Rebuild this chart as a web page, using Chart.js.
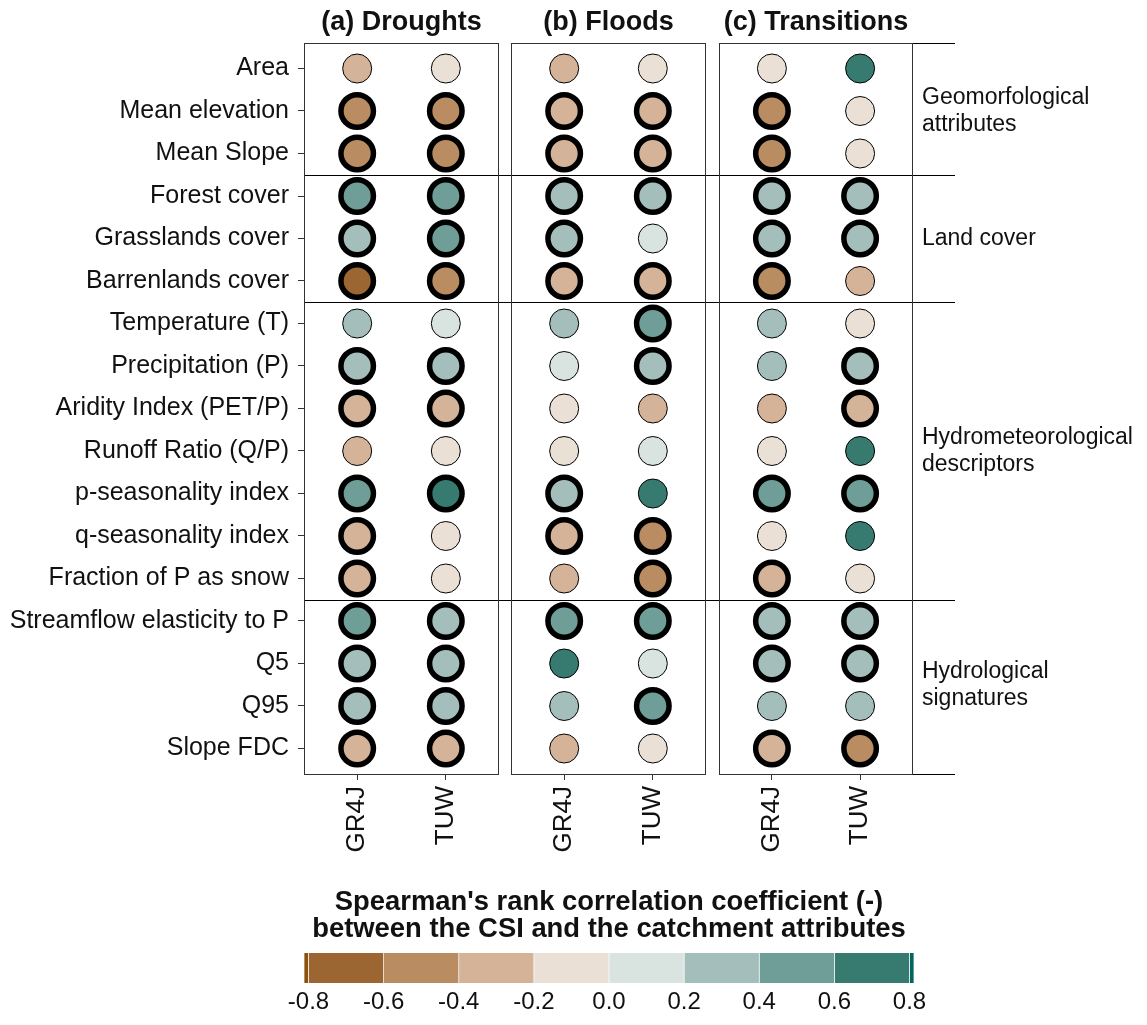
<!DOCTYPE html>
<html>
<head>
<meta charset="utf-8">
<script src="https://cdn.jsdelivr.net/npm/chart.js@4.4.1/dist/chart.umd.min.js"></script>
<style>
  body { margin: 0; background: #fff; width: 1147px; height: 1025px; position: relative; overflow: hidden; }
  canvas { position: absolute; }
</style>
</head>
<body>
<canvas id="panel-a"></canvas>
<canvas id="panel-b"></canvas>
<canvas id="panel-c"></canvas>
<canvas id="colorbar"></canvas>
<script>
// rows of the figure, top to bottom
const attributes = [
  "Area", "Mean elevation", "Mean Slope",
  "Forest cover", "Grasslands cover", "Barrenlands cover",
  "Temperature (T)", "Precipitation (P)", "Aridity Index (PET/P)", "Runoff Ratio (Q/P)",
  "p-seasonality index", "q-seasonality index", "Fraction of P as snow",
  "Streamflow elasticity to P", "Q5", "Q95", "Slope FDC"
];
const models = ["GR4J", "TUW"];
const groupNames = [["Geomorfological", "attributes"], ["Land cover"], ["Hydrometeorological", "descriptors"], ["Hydrological", "signatures"]];
const groupSizes = [3, 3, 7, 4];

// Spearman rho and significance (thick ring)
const droughtsGR4J = [-0.27, -0.49, -0.47, 0.46, 0.34, -0.63, 0.25, 0.31, -0.33, -0.24, 0.44, -0.36, -0.38, 0.42, 0.36, 0.35, -0.35];
const droughtsGR4JSig = [0, 1, 1, 1, 1, 1, 0, 1, 1, 0, 1, 1, 1, 1, 1, 1, 1];
const droughtsTUW = [-0.12, -0.45, -0.44, 0.45, 0.41, -0.47, 0.09, 0.33, -0.31, -0.14, 0.62, -0.15, -0.13, 0.38, 0.37, 0.36, -0.34];
const droughtsTUWSig = [0, 1, 1, 1, 1, 1, 0, 1, 1, 0, 1, 0, 0, 1, 1, 1, 1];

const floodsGR4J = [-0.22, -0.33, -0.32, 0.32, 0.30, -0.35, 0.22, 0.12, -0.11, -0.08, 0.34, -0.37, -0.26, 0.43, 0.61, 0.23, -0.25];
const floodsGR4JSig = [0, 1, 1, 1, 1, 1, 0, 0, 0, 0, 1, 1, 0, 1, 0, 0, 0];
const floodsTUW = [-0.09, -0.34, -0.31, 0.33, 0.14, -0.30, 0.47, 0.37, -0.23, 0.08, 0.64, -0.43, -0.46, 0.44, 0.11, 0.48, -0.07];
const floodsTUWSig = [0, 1, 1, 1, 0, 1, 1, 1, 0, 0, 0, 1, 1, 1, 0, 1, 0];

const transitionsGR4J = [-0.13, -0.48, -0.46, 0.35, 0.33, -0.44, 0.26, 0.27, -0.28, -0.10, 0.42, -0.06, -0.37, 0.36, 0.34, 0.24, -0.36];
const transitionsGR4JSig = [0, 1, 1, 1, 1, 1, 0, 0, 0, 0, 1, 0, 1, 1, 1, 0, 1];
const transitionsTUW = [0.63, -0.11, -0.09, 0.36, 0.35, -0.29, -0.05, 0.38, -0.39, 0.61, 0.41, 0.62, -0.08, 0.37, 0.35, 0.28, -0.52];
const transitionsTUWSig = [0, 0, 0, 1, 1, 0, 0, 1, 1, 0, 1, 0, 0, 1, 1, 0, 1];

// colour classes
const breaks = [-0.8, -0.6, -0.4, -0.2, 0, 0.2, 0.4, 0.6, 0.8];
const palette = ["#9b6631", "#b98c62", "#d4b398", "#ebe0d6", "#d9e3e0", "#a4bfbb", "#6e9e97", "#377b70"];
const barLimits = [-0.812, 0.812];
const endColors = ["#8c510a", "#01665e"];
const cbarTicks = [-0.8, -0.6, -0.4, -0.2, 0, 0.2, 0.4, 0.6, 0.8];

const FONT = "'Liberation Sans', Arial, sans-serif";
Chart.defaults.font.family = FONT;
Chart.defaults.color = "#000";

function colorFor(v) {
  for (let i = 0; i < palette.length; i++) {
    if (v < breaks[i + 1]) return palette[i];
  }
  return palette[palette.length - 1];
}

const panelDecor = {
  id: "panelDecor",
  afterDraw(chart, args, o) {
    const { ctx, chartArea: a } = chart;
    const y = chart.scales.y;
    ctx.save();
    ctx.lineWidth = 1;
    ctx.strokeStyle = "#000";
    let acc = 0;
    const cuts = [];
    groupSizes.forEach((n) => { acc += n; cuts.push(acc - 0.5); });
    const starts = [-0.5].concat(cuts);
    cuts.pop();
    cuts.forEach((c) => {
      const py = Math.round(y.getPixelForValue(c)) + 0.5;
      ctx.beginPath();
      ctx.moveTo(a.left - o.extL, py);
      ctx.lineTo(a.right + o.extR, py);
      ctx.stroke();
    });
    ctx.strokeStyle = "#333";
    ctx.strokeRect(Math.round(a.left) + 0.5, Math.round(a.top) + 0.5, Math.round(a.right - a.left) - 1, Math.round(a.bottom - a.top));
    ctx.fillStyle = "#111";
    ctx.font = "bold 27px " + FONT;
    ctx.textAlign = "center";
    ctx.textBaseline = "middle";
    ctx.fillText(o.title, (a.left + a.right) / 2, 23);
    if (o.groups) {
      ctx.strokeStyle = "#000";
      [a.top, a.bottom].forEach((t) => {
        const py = Math.round(t) + 0.5;
        ctx.beginPath();
        ctx.moveTo(a.right, py);
        ctx.lineTo(a.right + o.extR, py);
        ctx.stroke();
      });
      ctx.font = "23px " + FONT;
      ctx.textAlign = "left";
      groupNames.forEach((lines, g) => {
        const top = y.getPixelForValue(starts[g]);
        const bot = y.getPixelForValue(starts[g + 1]);
        const mid = (top + bot) / 2;
        lines.forEach((line, k) => {
          ctx.fillText(line, a.right + 9, mid + (k - (lines.length - 1) / 2) * 27);
        });
      });
    }
    ctx.restore();
  }
};

function makePanel(id, box, title, gr4j, gr4jSig, tuw, tuwSig, extra) {
  const cv = document.getElementById(id);
  cv.width = box.w; cv.height = box.h;
  cv.style.left = box.x + "px"; cv.style.top = "0px";
  const series = [[gr4j, gr4jSig], [tuw, tuwSig]];
  const datasets = series.map(([vals, sig], m) => ({
    data: vals.map((v, i) => ({ x: m, y: i, v: v, s: sig[i] })),
    pointBackgroundColor: (c) => colorFor(c.raw.v),
    pointBorderColor: "#000",
    pointRadius: (c) => (c.raw.s ? 16.25 : 14.5),
    pointBorderWidth: (c) => (c.raw.s ? 5.5 : 1),
    pointHoverRadius: (c) => (c.raw.s ? 16.25 : 14.5),
  }));
  return new Chart(cv, {
    type: "scatter",
    data: { datasets },
    options: {
      responsive: false,
      animation: false,
      events: [],
      layout: { autoPadding: false, padding: { top: 43, left: extra.padL, right: extra.padR, bottom: 0 } },
      plugins: {
        legend: { display: false },
        tooltip: { enabled: false },
        panelDecor: { title: title, extL: extra.extL, extR: extra.extR, groups: extra.groups },
      },
      scales: {
        x: {
          type: "linear", min: -0.6, max: 1.6,
          afterBuildTicks: (s) => { s.ticks = models.map((_, i) => ({ value: i })); },
          afterFit: (s) => { s.height = box.h - 774; s.paddingLeft = 0; s.paddingRight = 0; },
          ticks: { callback: (v) => models[v], minRotation: 90, maxRotation: 90, font: { size: 26 }, padding: 6, color: "#111" },
          grid: { drawOnChartArea: false, tickLength: 6, color: "#333" },
          border: { display: false },
        },
        y: {
          type: "linear", min: -0.6, max: 16.6, reverse: true,
          display: extra.showY,
          afterBuildTicks: (s) => { s.ticks = attributes.map((_, i) => ({ value: i })); },
          afterFit: (s) => { s.width = extra.showY ? 304 : 0; s.paddingTop = 0; s.paddingBottom = 0; },
          ticks: { callback: (v) => attributes[v], font: { size: 25 }, padding: 9, color: "#111", autoSkip: false },
          grid: { drawOnChartArea: false, tickLength: 6, color: "#333" },
          border: { display: false },
        },
      },
    },
    plugins: [panelDecor],
  });
}

makePanel("panel-a", { x: 0, w: 505, h: 870 }, "(a) Droughts", droughtsGR4J, droughtsGR4JSig, droughtsTUW, droughtsTUWSig,
  { padL: 0, padR: 6, extL: 0, extR: 6, showY: true, groups: false });
makePanel("panel-b", { x: 505, w: 207, h: 870 }, "(b) Floods", floodsGR4J, floodsGR4JSig, floodsTUW, floodsTUWSig,
  { padL: 6, padR: 6, extL: 6, extR: 6, showY: false, groups: false });
makePanel("panel-c", { x: 712, w: 435, h: 870 }, "(c) Transitions", transitionsGR4J, transitionsGR4JSig, transitionsTUW, transitionsTUWSig,
  { padL: 7, padR: 234, extL: 7, extR: 42, showY: false, groups: true });

// colour bar
const cbar = document.getElementById("colorbar");
cbar.width = 710; cbar.height = 129;
cbar.style.left = "254px"; cbar.style.top = "888px";
const cbarEdges = [barLimits[0]].concat(breaks, [barLimits[1]]);
const cbarColors = [endColors[0]].concat(palette, [endColors[1]]);
new Chart(cbar, {
  type: "bar",
  data: {
    labels: [""],
    datasets: cbarColors.map((c, i) => ({
      data: [[cbarEdges[i], cbarEdges[i + 1]]],
      backgroundColor: c,
      borderColor: "rgba(255,255,255,0.8)",
      borderWidth: { left: 0.7, right: 0.7, top: 0, bottom: 0 },
      borderSkipped: false,
      barPercentage: 1,
      categoryPercentage: 1,
      grouped: false,
    })),
  },
  options: {
    indexAxis: "y",
    responsive: false,
    animation: false,
    events: [],
    layout: { autoPadding: false, padding: { left: 50, right: 50, top: 0, bottom: 0 } },
    plugins: {
      legend: { display: false },
      tooltip: { enabled: false },
      title: {
        display: true,
        text: ["Spearman's rank correlation coefficient (-)", "between the CSI and the catchment attributes"],
        font: { size: 27.4, weight: "bold", lineHeight: 1.02 },
        color: "#111",
        padding: { top: 0, bottom: 9 },
      },
    },
    scales: {
      x: {
        type: "linear", min: barLimits[0], max: barLimits[1],
        afterBuildTicks: (s) => { s.ticks = cbarTicks.map((v) => ({ value: v })); },
        afterFit: (s) => { s.height = 34; },
        ticks: { callback: (v) => v.toFixed(1), font: { size: 24 }, padding: 5, color: "#111", maxRotation: 0 },
        grid: { display: false, drawTicks: false },
        border: { display: false },
      },
      y: { display: false },
    },
  },
});
</script>
</body>
</html>
